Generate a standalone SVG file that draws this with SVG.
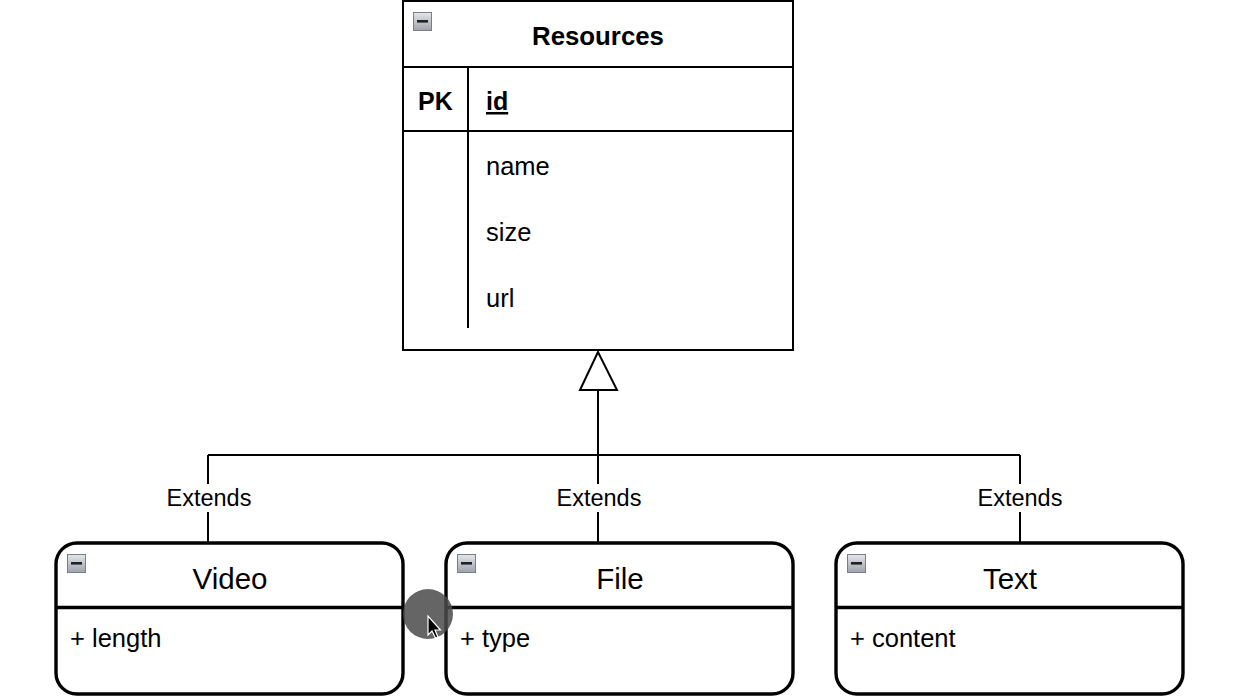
<svg xmlns="http://www.w3.org/2000/svg" width="1244" height="700" viewBox="0 0 1244 700">
<defs>
<linearGradient id="ig" x1="0" y1="0" x2="0" y2="1">
<stop offset="0" stop-color="#e4e6ea"/>
<stop offset="1" stop-color="#9ea3ab"/>
</linearGradient>
<g id="icon">
<rect x="0.5" y="0.5" width="18" height="18" fill="url(#ig)" stroke="#7a7f87" stroke-width="1"/>
<rect x="4" y="8" width="11" height="2.6" fill="#222"/>
</g>
</defs>
<style>
.t{font-family:"Liberation Sans",Arial,sans-serif;fill:#000}
.b{font-weight:bold;font-size:25px}
.a{font-size:25.5px}
.h{font-size:29.5px}
.lbl{font-size:23.5px}
.ln{stroke:#000;stroke-width:2;fill:none}
.hd{stroke:#000;stroke-width:3.4;fill:none}
.box{fill:#fff;stroke:#000;stroke-width:2}
.rbox{fill:#fff;stroke:#000;stroke-width:3.4}
</style>
<rect width="1244" height="700" fill="#fff"/>

<g id="connectors">
<path class="ln" d="M598 390 V543 M208 455 H1020 M208 455 V543 M1020 455 V543"/>
<polygon points="598,352 580,390 617,390" fill="#fff" stroke="#000" stroke-width="2"/>
<g id="label-video"><rect x="162" y="484" width="94" height="28" fill="#fff"/><text class="t lbl" x="209" y="506" text-anchor="middle">Extends</text></g>
<g id="label-file"><rect x="552" y="484" width="94" height="28" fill="#fff"/><text class="t lbl" x="599" y="506" text-anchor="middle">Extends</text></g>
<g id="label-text"><rect x="973" y="484" width="94" height="28" fill="#fff"/><text class="t lbl" x="1020" y="506" text-anchor="middle">Extends</text></g>
</g>

<g id="resources">
<rect class="box" x="403" y="1" width="390" height="349"/>
<path class="ln" d="M403 67 H793 M403 131 H793 M468 67 V328"/>
<use href="#icon" x="413" y="12"/>
<text class="t b" x="598" y="45" text-anchor="middle" style="font-size:25.8px">Resources</text>
<text class="t b" x="418" y="110">PK</text>
<text class="t b" x="486" y="110" text-decoration="underline">id</text>
<text class="t a" x="486" y="175">name</text>
<text class="t a" x="486" y="241">size</text>
<text class="t a" x="486" y="307">url</text>
</g>

<g id="video">
<rect class="rbox" x="56" y="543" width="347" height="151" rx="21"/>
<path class="hd" d="M56 607.5 H403"/>
<use href="#icon" x="67" y="554"/>
<text class="t h" x="230" y="589" text-anchor="middle">Video</text>
<text class="t a" x="70" y="647">+ length</text>
</g>

<g id="file">
<rect class="rbox" x="446" y="543" width="347" height="151" rx="21"/>
<path class="hd" d="M446 607.5 H793"/>
<use href="#icon" x="457" y="554"/>
<text class="t h" x="620" y="589" text-anchor="middle">File</text>
<text class="t a" x="460" y="647">+ type</text>
</g>

<g id="text">
<rect class="rbox" x="836" y="543" width="347" height="151" rx="21"/>
<path class="hd" d="M836 607.5 H1183"/>
<use href="#icon" x="847" y="554"/>
<text class="t h" x="1010" y="589" text-anchor="middle">Text</text>
<text class="t a" x="850" y="647">+ content</text>
</g>

<g id="cursor">
<circle cx="428" cy="614" r="25" fill="#4a4a4a" fill-opacity="0.85"/>
<path d="M428 616 V635 L432 631 L435.5 638 L438 637 L435 630 L440.5 630 Z" fill="#000" stroke="#fff" stroke-width="1.2"/>
</g>
</svg>
